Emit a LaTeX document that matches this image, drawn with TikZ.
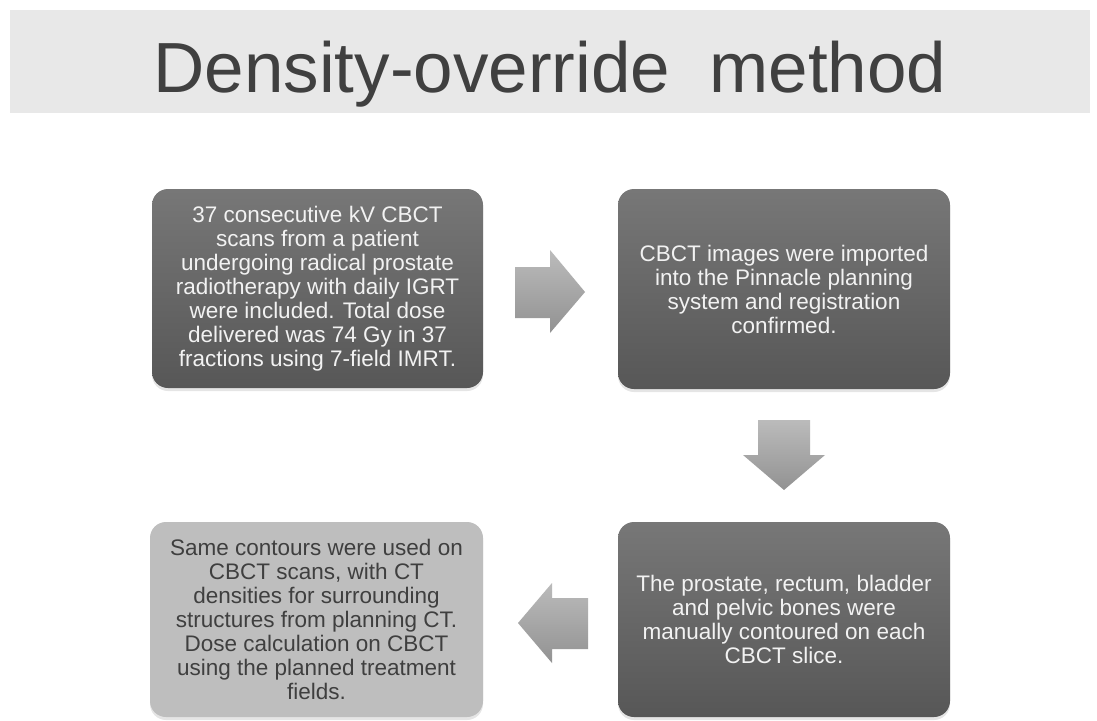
\documentclass[tikz,border=0pt]{standalone}
\usepackage{fontspec}
\setmainfont{Liberation Sans}
\usetikzlibrary{shadows}
\definecolor{bannerbg}{HTML}{E8E8E8}
\definecolor{titlecol}{HTML}{404040}
\definecolor{darktop}{HTML}{777777}
\definecolor{darkbot}{HTML}{575757}
\definecolor{lightbox}{HTML}{BEBEBE}
\definecolor{lighttext}{HTML}{F2F2F2}
\definecolor{darktext}{HTML}{3F3F3F}
\definecolor{arrtop}{HTML}{BBBBBB}
\definecolor{arrbot}{HTML}{929292}
\tikzset{
  darkbox/.style={rounded corners=16pt, top color=darktop, bottom color=darkbot,
    text=lighttext, align=center, inner sep=0pt,
    font=\fontsize{22.5}{24}\selectfont,
    drop shadow={opacity=0.2, shadow xshift=0pt, shadow yshift=-3pt}},
  litebox/.style={rounded corners=16pt, fill=lightbox,
    text=darktext, align=center, inner sep=0pt,
    font=\fontsize{22.5}{24}\selectfont,
    drop shadow={opacity=0.2, shadow xshift=0pt, shadow yshift=-3pt}},
  blockarrow/.style={top color=arrtop, bottom color=arrbot, draw=none}
}
\begin{document}
\begin{tikzpicture}[x=1pt,y=-1pt]
\useasboundingbox (0,0) rectangle (1097,720);
\fill[white] (0,0) rectangle (1097,720);
% banner
\fill[bannerbg] (10,10) rectangle (1090,113);
\node[text=titlecol, font=\fontsize{71}{75}\selectfont, inner sep=0pt, anchor=base] (title) at (550,92) {Density-override\ \ method};
% boxes
\node[darkbox, minimum width=331pt, minimum height=199pt] (b1) at (317.5,288.5)
 {37 consecutive kV CBCT\\scans from a patient\\undergoing radical prostate\\radiotherapy with daily IGRT\\were included. Total dose\\delivered was 74 Gy in 37\\fractions using 7-field IMRT.};
\node[darkbox, minimum width=332pt, minimum height=200pt] (b2) at (784,289)
 {CBCT images were imported\\into the Pinnacle planning\\system and registration\\confirmed.};
\node[darkbox, minimum width=332pt, minimum height=195pt] (b3) at (784,619.5)
 {The prostate, rectum, bladder\\and pelvic bones were\\manually contoured on each\\CBCT slice.};
\node[litebox, minimum width=333pt, minimum height=195pt] (b4) at (316.5,619.5)
 {Same contours were used on\\CBCT scans, with CT\\densities for surrounding\\structures from planning CT.\\Dose calculation on CBCT\\using the planned treatment\\fields.};
% block arrows
\coordinate (a1) at (515,267);
\shade[blockarrow] (a1) -- (550,267) -- (550,250) -- (585,292) -- (550,333) -- (550,318) -- (515,318) -- cycle;
\coordinate (a2) at (758,420);
\shade[blockarrow] (a2) -- (810,420) -- (810,455) -- (825,455) -- (784,490) -- (743,455) -- (758,455) -- cycle;
\coordinate (a3) at (588,598);
\shade[blockarrow] (a3) -- (552,598) -- (552,583) -- (518,623) -- (552,663) -- (552,649) -- (588,649) -- cycle;
\end{tikzpicture}
\end{document}
